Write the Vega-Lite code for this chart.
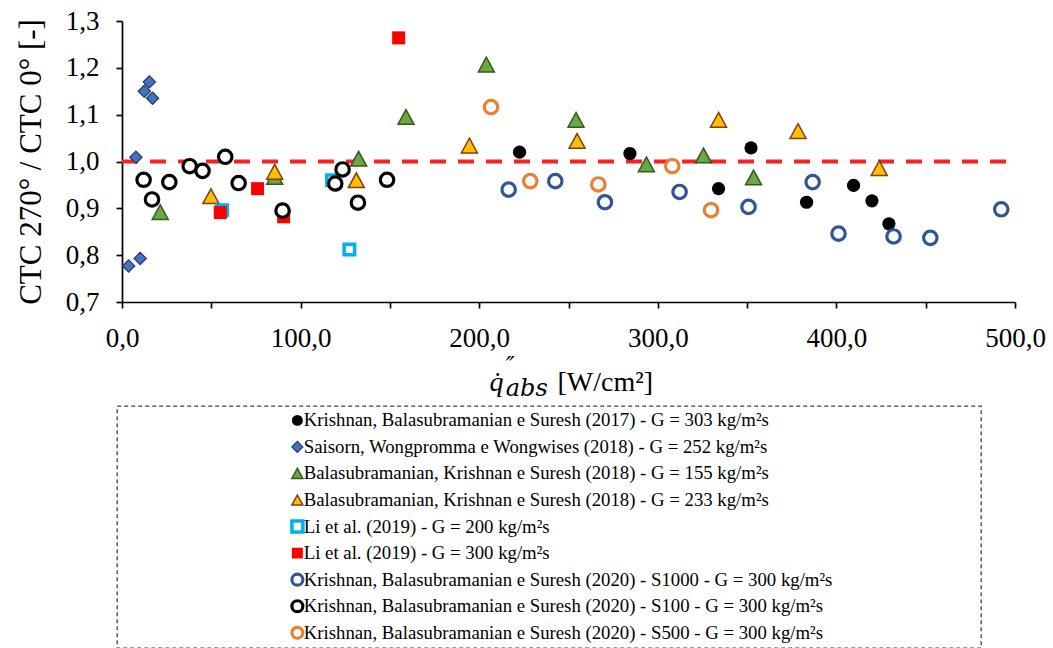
{
  "$schema": "https://vega.github.io/schema/vega-lite/v6.json",
  "width": 893,
  "height": 281,
  "autosize": {"type": "none"},
  "padding": {"left": 122, "top": 21, "right": 38, "bottom": 346},
  "config": {
    "font": "Liberation Serif, Times New Roman, Times, serif",
    "view": {"stroke": null},
    "axis": {
      "labelFont": "Liberation Serif, Times New Roman, Times, serif",
      "titleFont": "Liberation Serif, Times New Roman, Times, serif",
      "labelColor": "black",
      "titleColor": "black",
      "grid": false
    },
    "legend": {
      "orient": "none",
      "legendX": -5,
      "legendY": 385,
      "direction": "vertical",
      "labelFont": "Liberation Serif, Times New Roman, Times, serif",
      "labelFontSize": 18.75,
      "labelColor": "black",
      "labelLimit": 0,
      "symbolSize": 120,
      "symbolOffset": 166,
      "labelOffset": -3,
      "clipHeight": 18.75,
      "rowPadding": 6.55,
      "padding": 5,
      "titleFont": "Liberation Serif, Times New Roman, Times, serif",
      "titleFontSize": 18.75,
      "titleOrient": "right",
      "titlePadding": 144,
      "titleLimit": 0,
      "strokeColor": "#404040",
      "strokeDash": [4, 3],
      "strokeWidth": 1.3
    }
  },
  "datasets": {
    "reference": [
      {"q": 0, "v": 1.0},
      {"q": 500, "v": 1.0}
    ],
    "points": [
      {"s": "Krishnan, Balasubramanian e Suresh (2017) - G = 303 kg/m²s", "q": 222.6, "v": 1.020},
      {"s": "Krishnan, Balasubramanian e Suresh (2017) - G = 303 kg/m²s", "q": 284.4, "v": 1.017},
      {"s": "Krishnan, Balasubramanian e Suresh (2017) - G = 303 kg/m²s", "q": 334.0, "v": 0.942},
      {"s": "Krishnan, Balasubramanian e Suresh (2017) - G = 303 kg/m²s", "q": 352.2, "v": 1.029},
      {"s": "Krishnan, Balasubramanian e Suresh (2017) - G = 303 kg/m²s", "q": 383.3, "v": 0.913},
      {"s": "Krishnan, Balasubramanian e Suresh (2017) - G = 303 kg/m²s", "q": 409.6, "v": 0.949},
      {"s": "Krishnan, Balasubramanian e Suresh (2017) - G = 303 kg/m²s", "q": 419.9, "v": 0.916},
      {"s": "Krishnan, Balasubramanian e Suresh (2017) - G = 303 kg/m²s", "q": 429.4, "v": 0.867},
      {"s": "Saisorn, Wongpromma e Wongwises (2018) - G = 252 kg/m²s", "q": 3.7, "v": 0.777},
      {"s": "Saisorn, Wongpromma e Wongwises (2018) - G = 252 kg/m²s", "q": 10.2, "v": 0.793},
      {"s": "Saisorn, Wongpromma e Wongwises (2018) - G = 252 kg/m²s", "q": 7.8, "v": 1.009},
      {"s": "Saisorn, Wongpromma e Wongwises (2018) - G = 252 kg/m²s", "q": 12.5, "v": 1.150},
      {"s": "Saisorn, Wongpromma e Wongwises (2018) - G = 252 kg/m²s", "q": 15.3, "v": 1.170},
      {"s": "Saisorn, Wongpromma e Wongwises (2018) - G = 252 kg/m²s", "q": 17.1, "v": 1.135},
      {"s": "Balasubramanian, Krishnan e Suresh (2018) - G = 155 kg/m²s", "q": 21.4, "v": 0.892},
      {"s": "Balasubramanian, Krishnan e Suresh (2018) - G = 155 kg/m²s", "q": 85.5, "v": 0.967},
      {"s": "Balasubramanian, Krishnan e Suresh (2018) - G = 155 kg/m²s", "q": 132.5, "v": 1.006},
      {"s": "Balasubramanian, Krishnan e Suresh (2018) - G = 155 kg/m²s", "q": 159.0, "v": 1.095},
      {"s": "Balasubramanian, Krishnan e Suresh (2018) - G = 155 kg/m²s", "q": 204.0, "v": 1.207},
      {"s": "Balasubramanian, Krishnan e Suresh (2018) - G = 155 kg/m²s", "q": 254.2, "v": 1.089},
      {"s": "Balasubramanian, Krishnan e Suresh (2018) - G = 155 kg/m²s", "q": 293.6, "v": 0.994},
      {"s": "Balasubramanian, Krishnan e Suresh (2018) - G = 155 kg/m²s", "q": 325.6, "v": 1.013},
      {"s": "Balasubramanian, Krishnan e Suresh (2018) - G = 155 kg/m²s", "q": 353.6, "v": 0.966},
      {"s": "Balasubramanian, Krishnan e Suresh (2018) - G = 233 kg/m²s", "q": 49.8, "v": 0.926},
      {"s": "Balasubramanian, Krishnan e Suresh (2018) - G = 233 kg/m²s", "q": 85.5, "v": 0.978},
      {"s": "Balasubramanian, Krishnan e Suresh (2018) - G = 233 kg/m²s", "q": 131.2, "v": 0.960},
      {"s": "Balasubramanian, Krishnan e Suresh (2018) - G = 233 kg/m²s", "q": 194.5, "v": 1.034},
      {"s": "Balasubramanian, Krishnan e Suresh (2018) - G = 233 kg/m²s", "q": 254.8, "v": 1.044},
      {"s": "Balasubramanian, Krishnan e Suresh (2018) - G = 233 kg/m²s", "q": 334.0, "v": 1.089},
      {"s": "Balasubramanian, Krishnan e Suresh (2018) - G = 233 kg/m²s", "q": 378.5, "v": 1.065},
      {"s": "Balasubramanian, Krishnan e Suresh (2018) - G = 233 kg/m²s", "q": 424.0, "v": 0.986},
      {"s": "Li et al. (2019) - G = 200 kg/m²s", "q": 56.0, "v": 0.896},
      {"s": "Li et al. (2019) - G = 200 kg/m²s", "q": 117.6, "v": 0.960},
      {"s": "Li et al. (2019) - G = 200 kg/m²s", "q": 127.3, "v": 0.812},
      {"s": "Li et al. (2019) - G = 300 kg/m²s", "q": 55.0, "v": 0.891},
      {"s": "Li et al. (2019) - G = 300 kg/m²s", "q": 75.9, "v": 0.942},
      {"s": "Li et al. (2019) - G = 300 kg/m²s", "q": 90.5, "v": 0.882},
      {"s": "Li et al. (2019) - G = 300 kg/m²s", "q": 154.9, "v": 1.264},
      {"s": "Krishnan, Balasubramanian e Suresh (2020) - S1000 - G = 300 kg/m²s", "q": 216.5, "v": 0.940},
      {"s": "Krishnan, Balasubramanian e Suresh (2020) - S1000 - G = 300 kg/m²s", "q": 242.6, "v": 0.958},
      {"s": "Krishnan, Balasubramanian e Suresh (2020) - S1000 - G = 300 kg/m²s", "q": 270.4, "v": 0.913},
      {"s": "Krishnan, Balasubramanian e Suresh (2020) - S1000 - G = 300 kg/m²s", "q": 312.2, "v": 0.935},
      {"s": "Krishnan, Balasubramanian e Suresh (2020) - S1000 - G = 300 kg/m²s", "q": 350.8, "v": 0.903},
      {"s": "Krishnan, Balasubramanian e Suresh (2020) - S1000 - G = 300 kg/m²s", "q": 386.7, "v": 0.956},
      {"s": "Krishnan, Balasubramanian e Suresh (2020) - S1000 - G = 300 kg/m²s", "q": 401.2, "v": 0.846},
      {"s": "Krishnan, Balasubramanian e Suresh (2020) - S1000 - G = 300 kg/m²s", "q": 432.0, "v": 0.840},
      {"s": "Krishnan, Balasubramanian e Suresh (2020) - S1000 - G = 300 kg/m²s", "q": 452.6, "v": 0.837},
      {"s": "Krishnan, Balasubramanian e Suresh (2020) - S1000 - G = 300 kg/m²s", "q": 492.3, "v": 0.898},
      {"s": "Krishnan, Balasubramanian e Suresh (2020) - S100 - G = 300 kg/m²s", "q": 12.1, "v": 0.961},
      {"s": "Krishnan, Balasubramanian e Suresh (2020) - S100 - G = 300 kg/m²s", "q": 16.8, "v": 0.919},
      {"s": "Krishnan, Balasubramanian e Suresh (2020) - S100 - G = 300 kg/m²s", "q": 26.5, "v": 0.956},
      {"s": "Krishnan, Balasubramanian e Suresh (2020) - S100 - G = 300 kg/m²s", "q": 37.9, "v": 0.990},
      {"s": "Krishnan, Balasubramanian e Suresh (2020) - S100 - G = 300 kg/m²s", "q": 45.1, "v": 0.980},
      {"s": "Krishnan, Balasubramanian e Suresh (2020) - S100 - G = 300 kg/m²s", "q": 57.8, "v": 1.010},
      {"s": "Krishnan, Balasubramanian e Suresh (2020) - S100 - G = 300 kg/m²s", "q": 65.3, "v": 0.954},
      {"s": "Krishnan, Balasubramanian e Suresh (2020) - S100 - G = 300 kg/m²s", "q": 89.9, "v": 0.895},
      {"s": "Krishnan, Balasubramanian e Suresh (2020) - S100 - G = 300 kg/m²s", "q": 119.4, "v": 0.953},
      {"s": "Krishnan, Balasubramanian e Suresh (2020) - S100 - G = 300 kg/m²s", "q": 123.5, "v": 0.983},
      {"s": "Krishnan, Balasubramanian e Suresh (2020) - S100 - G = 300 kg/m²s", "q": 132.1, "v": 0.912},
      {"s": "Krishnan, Balasubramanian e Suresh (2020) - S100 - G = 300 kg/m²s", "q": 148.4, "v": 0.961},
      {"s": "Krishnan, Balasubramanian e Suresh (2020) - S500 - G = 300 kg/m²s", "q": 206.6, "v": 1.116},
      {"s": "Krishnan, Balasubramanian e Suresh (2020) - S500 - G = 300 kg/m²s", "q": 228.6, "v": 0.958},
      {"s": "Krishnan, Balasubramanian e Suresh (2020) - S500 - G = 300 kg/m²s", "q": 266.7, "v": 0.951},
      {"s": "Krishnan, Balasubramanian e Suresh (2020) - S500 - G = 300 kg/m²s", "q": 308.1, "v": 0.990},
      {"s": "Krishnan, Balasubramanian e Suresh (2020) - S500 - G = 300 kg/m²s", "q": 329.8, "v": 0.896}
    ]
  },
  "encoding": {
    "y": {
      "field": "v",
      "type": "quantitative",
      "scale": {"domain": [0.7, 1.3], "nice": false, "zero": false},
      "axis": {
        "values": [0.7, 0.8, 0.9, 1.0, 1.1, 1.2, 1.3],
        "labelExpr": "replace(format(datum.value, '.1f'), '.', ',')",
        "labelFontSize": 27,
        "labelPadding": 17,
        "tickSize": 6,
        "tickWidth": 1.7,
        "tickColor": "black",
        "domainColor": "black",
        "domainWidth": 1.7,
        "title": "CTC 270° / CTC 0° [-]",
        "titleFontSize": 31,
        "titleFontWeight": "normal",
        "titleX": -82,
        "titleY": 140.5,
        "titleAlign": "center",
        "titleBaseline": "alphabetic"
      }
    }
  },
  "layer": [
    {
      "data": {"name": "reference"},
      "mark": {"type": "line", "color": "#FF1F1F", "strokeWidth": 4, "strokeDash": [16, 12], "strokeCap": "butt"},
      "encoding": {
        "x": {
          "field": "q",
          "type": "quantitative",
          "scale": {"domain": [0, 500], "nice": false, "zero": false},
          "axis": {
            "orient": "bottom",
            "domain": false,
            "ticks": false,
            "tickSize": 0,
            "values": [214.6],
            "labelExpr": "['\u2009\u2033', 'abs']",
            "labelFont": "DejaVu Serif",
            "labelFontStyle": "italic",
            "labelFontSize": 24,
            "labelLineHeight": 21.5,
            "labelAlign": "left",
            "labelBaseline": "alphabetic",
            "labelPadding": 71.5,
            "labelFlush": false,
            "labelOverlap": false,
            "title": "q\u0307",
            "titleX": 367,
            "titleY": 88,
            "titleAlign": "left",
            "titleBaseline": "alphabetic",
            "titleFontStyle": "italic",
            "titleFontWeight": "normal",
            "titleFontSize": 28
          }
        }
      }
    },
    {
      "data": {"name": "points"},
      "mark": {"type": "point", "opacity": 1},
      "encoding": {
        "x": {
          "field": "q",
          "type": "quantitative",
          "scale": {"domain": [0, 500], "nice": false, "zero": false},
          "axis": {
            "orient": "bottom",
            "values": [0, 50, 100, 150, 200, 250, 300, 350, 400, 450, 500],
            "labelExpr": "datum.value % 100 === 0 ? replace(format(datum.value, '.1f'), '.', ',') : ''",
            "labelFlush": false,
            "labelOverlap": false,
            "labelFontSize": 27,
            "labelPadding": 17,
            "tickSize": 6,
            "tickWidth": 1.7,
            "tickColor": "black",
            "domainColor": "black",
            "domainWidth": 1.7,
            "title": "[W/cm²]",
            "titleX": 435,
            "titleY": 88,
            "titleAlign": "left",
            "titleBaseline": "alphabetic",
            "titleFontSize": 28,
            "titleFontWeight": "normal"
          }
        },
        "size": {
          "condition": [
            {"test": "indexof(datum.s, 'Balasubramanian, Krishnan') === 0", "value": 256},
            {"test": "indexof(datum.s, 'Saisorn') === 0", "value": 150},
            {"test": "datum.s === 'Li et al. (2019) - G = 200 kg/m²s'", "value": 110},
            {"test": "datum.s === 'Li et al. (2019) - G = 300 kg/m²s'", "value": 169},
            {"test": "indexof(datum.s, '(2017)') > 0", "value": 175}
          ],
          "value": 180
        },
        "fill": {
          "field": "s",
          "type": "nominal",
          "scale": {
            "domain": [
              "Krishnan, Balasubramanian e Suresh (2017) - G = 303 kg/m²s",
              "Saisorn, Wongpromma e Wongwises (2018) - G = 252 kg/m²s",
              "Balasubramanian, Krishnan e Suresh (2018) - G = 155 kg/m²s",
              "Balasubramanian, Krishnan e Suresh (2018) - G = 233 kg/m²s",
              "Li et al. (2019) - G = 200 kg/m²s",
              "Li et al. (2019) - G = 300 kg/m²s",
              "Krishnan, Balasubramanian e Suresh (2020) - S1000 - G = 300 kg/m²s",
              "Krishnan, Balasubramanian e Suresh (2020) - S100 - G = 300 kg/m²s",
              "Krishnan, Balasubramanian e Suresh (2020) - S500 - G = 300 kg/m²s"
            ],
            "range": ["#000000", "#4472C4", "#6AA842", "#FFC000", "#FFFFFF", "#FF0000", "#FFFFFF", "#FFFFFF", "#FFFFFF"]
          },
          "legend": {"title": "\u00a0"}
        },
        "stroke": {
          "field": "s",
          "type": "nominal",
          "scale": {
            "domain": [
              "Krishnan, Balasubramanian e Suresh (2017) - G = 303 kg/m²s",
              "Saisorn, Wongpromma e Wongwises (2018) - G = 252 kg/m²s",
              "Balasubramanian, Krishnan e Suresh (2018) - G = 155 kg/m²s",
              "Balasubramanian, Krishnan e Suresh (2018) - G = 233 kg/m²s",
              "Li et al. (2019) - G = 200 kg/m²s",
              "Li et al. (2019) - G = 300 kg/m²s",
              "Krishnan, Balasubramanian e Suresh (2020) - S1000 - G = 300 kg/m²s",
              "Krishnan, Balasubramanian e Suresh (2020) - S100 - G = 300 kg/m²s",
              "Krishnan, Balasubramanian e Suresh (2020) - S500 - G = 300 kg/m²s"
            ],
            "range": ["#000000", "#1F3864", "#385723", "#843C0C", "#00B0F0", "#FF0000", "#2F5597", "#000000", "#ED7D31"]
          },
          "legend": {"title": "\u00a0"}
        },
        "shape": {
          "field": "s",
          "type": "nominal",
          "scale": {
            "domain": [
              "Krishnan, Balasubramanian e Suresh (2017) - G = 303 kg/m²s",
              "Saisorn, Wongpromma e Wongwises (2018) - G = 252 kg/m²s",
              "Balasubramanian, Krishnan e Suresh (2018) - G = 155 kg/m²s",
              "Balasubramanian, Krishnan e Suresh (2018) - G = 233 kg/m²s",
              "Li et al. (2019) - G = 200 kg/m²s",
              "Li et al. (2019) - G = 300 kg/m²s",
              "Krishnan, Balasubramanian e Suresh (2020) - S1000 - G = 300 kg/m²s",
              "Krishnan, Balasubramanian e Suresh (2020) - S100 - G = 300 kg/m²s",
              "Krishnan, Balasubramanian e Suresh (2020) - S500 - G = 300 kg/m²s"
            ],
            "range": ["circle", "diamond", "M0,-0.92L1,0.92L-1,0.92Z", "M0,-0.92L1,0.92L-1,0.92Z", "square", "square", "circle", "circle", "circle"]
          },
          "legend": {"title": "\u00a0"}
        },
        "strokeWidth": {
          "field": "s",
          "type": "nominal",
          "scale": {
            "type": "ordinal",
            "domain": [
              "Krishnan, Balasubramanian e Suresh (2017) - G = 303 kg/m²s",
              "Saisorn, Wongpromma e Wongwises (2018) - G = 252 kg/m²s",
              "Balasubramanian, Krishnan e Suresh (2018) - G = 155 kg/m²s",
              "Balasubramanian, Krishnan e Suresh (2018) - G = 233 kg/m²s",
              "Li et al. (2019) - G = 200 kg/m²s",
              "Li et al. (2019) - G = 300 kg/m²s",
              "Krishnan, Balasubramanian e Suresh (2020) - S1000 - G = 300 kg/m²s",
              "Krishnan, Balasubramanian e Suresh (2020) - S100 - G = 300 kg/m²s",
              "Krishnan, Balasubramanian e Suresh (2020) - S500 - G = 300 kg/m²s"
            ],
            "range": [0, 1.2, 1.5, 1.5, 3.5, 0, 3.2, 3.2, 3.2]
          },
          "legend": {"title": "\u00a0"}
        }
      }
    }
  ],
  "resolve": {"axis": {"x": "independent"}, "scale": {"x": "shared"}}
}
